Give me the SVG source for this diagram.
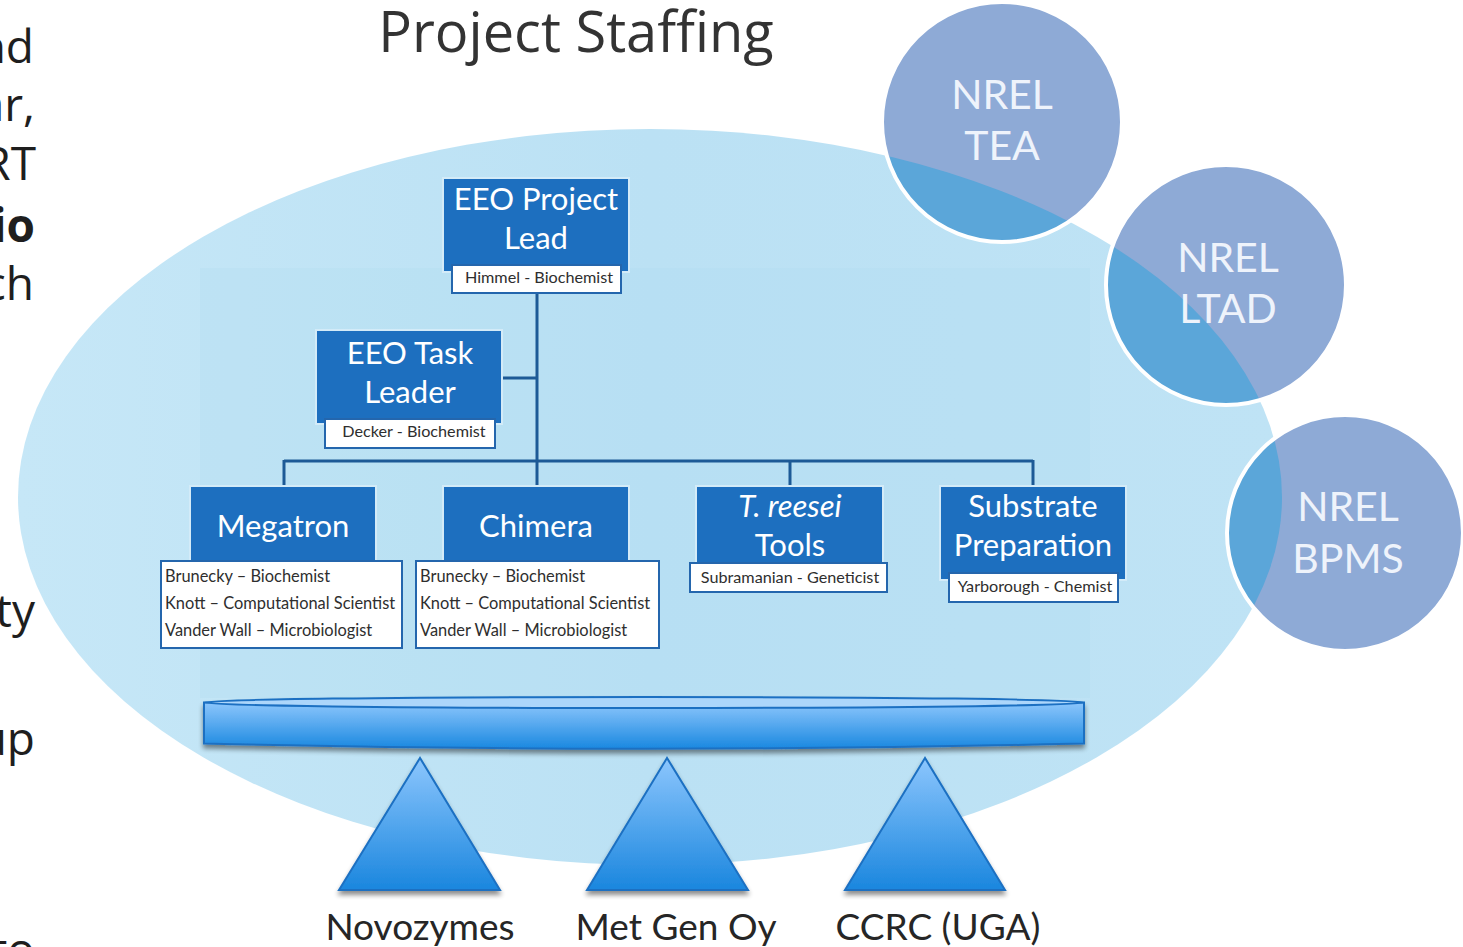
<svg xmlns="http://www.w3.org/2000/svg" width="1463" height="947" viewBox="0 0 1463 947">
<style>
.frag{font-family:"Open Sans","Liberation Sans",sans-serif;font-size:46px;fill:#1e1e1e;text-anchor:end}
.title{font-family:"Open Sans","Liberation Sans",sans-serif;font-size:56px;fill:#333;text-anchor:middle}
.head{font-family:Lato,"Open Sans",sans-serif;font-size:31px;fill:#fff;text-anchor:middle}
.role{font-family:Lato,"Open Sans",sans-serif;font-size:16.4px;fill:#2e2e2e}
.roleC{font-family:Lato,"Open Sans",sans-serif;font-size:16.2px;fill:#2e2e2e;text-anchor:middle}
.box{fill:#1d6fbf;stroke:#d3ebf8;stroke-width:2}
.tag{fill:#fff;stroke:#2466ad;stroke-width:2}
.link{stroke:#1d5a96;stroke-width:3;fill:none}
.orb{fill:#8eaad6}
.orbCut{fill:#5ba6d9}
.orbRing{fill:none;stroke:#fff;stroke-width:4}
.orbTxt{font-family:Lato,"Open Sans",sans-serif;font-size:41px;fill:#eef3fb;text-anchor:middle}
.prop{fill:url(#propGrad);stroke:#1c70c2;stroke-width:2}
.propTxt{font-family:Lato,"Open Sans",sans-serif;font-size:37px;fill:#262626;text-anchor:middle}
</style>
<defs>
  <linearGradient id="barGrad" x1="0" y1="0" x2="0" y2="1">
    <stop offset="0" stop-color="#8cc6fc"/>
    <stop offset="1" stop-color="#1a88e0"/>
  </linearGradient>
  <linearGradient id="propGrad" x1="0" y1="0" x2="0" y2="1">
    <stop offset="0" stop-color="#8cc6fd"/>
    <stop offset="1" stop-color="#1a86de"/>
  </linearGradient>
  <linearGradient id="poolGrad" x1="0" y1="0" x2="1" y2="0">
    <stop offset="0" stop-color="#c6e7f7"/>
    <stop offset="0.5" stop-color="#bbe1f4"/>
    <stop offset="1" stop-color="#bfe3f5"/>
  </linearGradient>
  <filter id="shadow" x="-5%" y="-20%" width="110%" height="160%">
    <feGaussianBlur in="SourceAlpha" stdDeviation="2.5"/>
    <feOffset dy="4" result="b"/>
    <feComponentTransfer><feFuncA type="linear" slope="0.45"/></feComponentTransfer>
    <feMerge><feMergeNode/><feMergeNode in="SourceGraphic"/></feMerge>
  </filter>
  <ellipse id="poolShape" cx="650" cy="497" rx="632" ry="368"/>
  <clipPath id="clipTea"><circle cx="1002" cy="122" r="120"/></clipPath>
  <clipPath id="clipLtad"><circle cx="1226" cy="285" r="120"/></clipPath>
  <clipPath id="clipBpms"><circle cx="1345" cy="533" r="118"/></clipPath>
</defs>

<rect width="1463" height="947" fill="#fff"/>

<!-- neighbouring column of text, cut at the left edge -->
<g id="margin-text">
  <text class="frag" x="34" y="63">nd</text>
  <text class="frag" x="35" y="121">ar,</text>
  <text class="frag" x="36" y="180">RT</text>
  <text class="frag" x="35" y="242" font-weight="bold">io</text>
  <text class="frag" x="34" y="300">ch</text>
  <text class="frag" x="35" y="627">ty</text>
  <text class="frag" x="35" y="755">up</text>
  <text class="frag" x="35" y="966">to</text>
</g>

<text class="title" x="576" y="52">Project Staffing</text>

<!-- team pool -->
<g id="pool">
  <use href="#poolShape" fill="url(#poolGrad)"/>
  <rect x="200" y="268" width="890" height="430" fill="#a9d6ef" opacity="0.18"/>
</g>

<!-- partner groups -->
<g id="nrel-tea">
  <circle class="orb" cx="1002" cy="122" r="120"/>
  <use href="#poolShape" class="orbCut" clip-path="url(#clipTea)"/>
  <circle class="orbRing" cx="1002" cy="122" r="120"/>
  <text class="orbTxt" x="1002" y="109">NREL</text>
  <text class="orbTxt" x="1002" y="160">TEA</text>
</g>
<g id="nrel-ltad">
  <circle class="orb" cx="1226" cy="285" r="120"/>
  <use href="#poolShape" class="orbCut" clip-path="url(#clipLtad)"/>
  <circle class="orbRing" cx="1226" cy="285" r="120"/>
  <text class="orbTxt" x="1228" y="272">NREL</text>
  <text class="orbTxt" x="1228" y="323">LTAD</text>
</g>
<g id="nrel-bpms">
  <circle class="orb" cx="1345" cy="533" r="118"/>
  <use href="#poolShape" class="orbCut" clip-path="url(#clipBpms)"/>
  <circle class="orbRing" cx="1345" cy="533" r="118"/>
  <text class="orbTxt" x="1348" y="521">NREL</text>
  <text class="orbTxt" x="1348" y="573">BPMS</text>
</g>

<!-- reporting lines -->
<g id="connectors">
  <line class="link" x1="537" y1="293" x2="537" y2="486"/>
  <line class="link" x1="502" y1="378" x2="537" y2="378"/>
  <line class="link" x1="284" y1="461" x2="1033" y2="461"/>
  <line class="link" x1="284" y1="460" x2="284" y2="486"/>
  <line class="link" x1="790" y1="460" x2="790" y2="486"/>
  <line class="link" x1="1033" y1="460" x2="1033" y2="486"/>
</g>

<g id="project-lead">
  <rect class="box" x="443" y="178" width="186" height="94"/>
  <text class="head" x="536" y="210">EEO Project</text>
  <text class="head" x="536" y="249">Lead</text>
  <rect class="tag" x="452" y="265" width="169" height="28"/>
  <text class="roleC" x="539" y="283">Himmel - Biochemist</text>
</g>

<g id="task-leader">
  <rect class="box" x="316" y="330" width="186" height="94"/>
  <text class="head" x="410" y="364">EEO Task</text>
  <text class="head" x="410" y="403">Leader</text>
  <rect class="tag" x="325" y="419" width="170" height="29"/>
  <text class="roleC" x="414" y="437">Decker - Biochemist</text>
</g>

<g id="megatron">
  <rect class="box" x="190" y="486" width="186" height="80"/>
  <text class="head" x="283" y="537">Megatron</text>
  <rect class="tag" x="161" y="561" width="241" height="87"/>
  <text class="role" x="165" y="582">Brunecky – Biochemist</text>
  <text class="role" x="165" y="609">Knott – Computational Scientist</text>
  <text class="role" x="165" y="636">Vander Wall – Microbiologist</text>
</g>

<g id="chimera">
  <rect class="box" x="443" y="486" width="186" height="80"/>
  <text class="head" x="536" y="537">Chimera</text>
  <rect class="tag" x="416" y="561" width="243" height="87"/>
  <text class="role" x="420" y="582">Brunecky – Biochemist</text>
  <text class="role" x="420" y="609">Knott – Computational Scientist</text>
  <text class="role" x="420" y="636">Vander Wall – Microbiologist</text>
</g>

<g id="treesei-tools">
  <rect class="box" x="696" y="486" width="187" height="82"/>
  <text class="head" x="790" y="517" font-style="italic">T. reesei</text>
  <text class="head" x="790" y="556">Tools</text>
  <rect class="tag" x="690" y="563" width="197" height="29"/>
  <text class="roleC" x="790" y="583">Subramanian - Geneticist</text>
</g>

<g id="substrate-prep">
  <rect class="box" x="940" y="486" width="186" height="94"/>
  <text class="head" x="1033" y="517">Substrate</text>
  <text class="head" x="1033" y="556">Preparation</text>
  <rect class="tag" x="949" y="573" width="169" height="29"/>
  <text class="roleC" x="1035" y="592">Yarborough - Chemist</text>
</g>

<!-- lever resting on the partner supports -->
<g id="lever" filter="url(#shadow)">
  <path d="M204,702.5 L204,743.5 Q644,754 1084,743.5 L1084,702.5 Z" fill="url(#barGrad)" stroke="#1c70c2" stroke-width="2"/>
  <ellipse cx="644" cy="702.5" rx="440" ry="5.5" fill="#acd6fb" stroke="#1c70c2" stroke-width="2"/>
</g>

<g id="novozymes">
  <polygon class="prop" points="420,758 339,890 500,890" filter="url(#shadow)"/>
  <text class="propTxt" x="420" y="940">Novozymes</text>
</g>
<g id="met-gen-oy">
  <polygon class="prop" points="667,758 587,890 748,890" filter="url(#shadow)"/>
  <text class="propTxt" x="676" y="940">Met Gen Oy</text>
</g>
<g id="ccrc-uga">
  <polygon class="prop" points="925,758 845,890 1005,890" filter="url(#shadow)"/>
  <text class="propTxt" x="938" y="940">CCRC (UGA)</text>
</g>
</svg>
